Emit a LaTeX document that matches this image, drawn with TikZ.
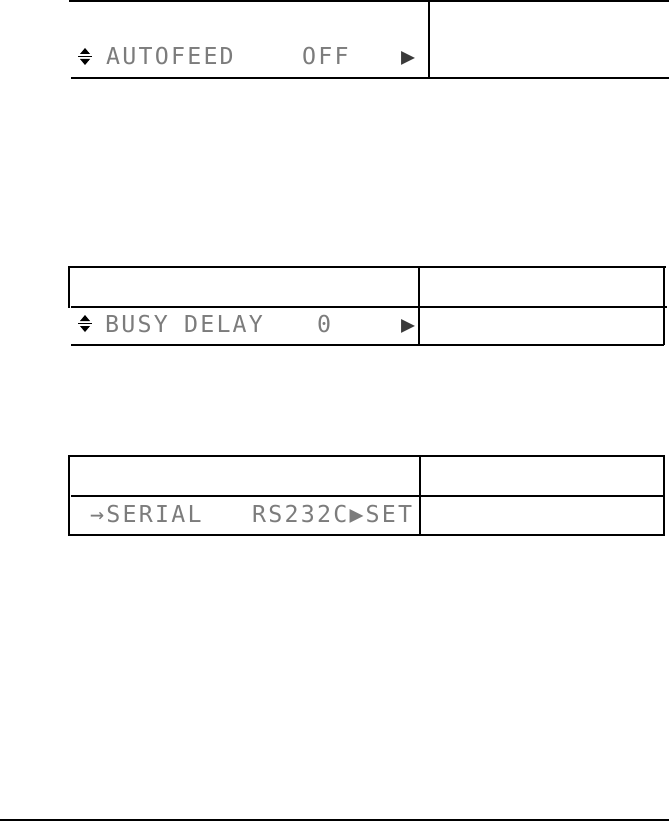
\documentclass[tikz,border=0pt]{standalone}
\usepackage{fontspec}
\newfontfamily\lcdfont[LetterSpace=9.4]{DejaVu Sans Mono}
\definecolor{lcdtext}{HTML}{7C7C7C}
\definecolor{lcddark}{HTML}{3A3A3A}

\begin{document}
\begin{tikzpicture}[x=1bp,y=-1bp,
  every node/.style={font=\lcdfont\fontsize{23.3bp}{24bp}\selectfont,text=lcdtext,inner sep=0pt,anchor=base west},
  lcdmark/.style={text=lcddark},
  thin rule/.style={line width=1.2bp},
  thick rule/.style={line width=2.2bp}]
\useasboundingbox (0,0) rectangle (669,821);
% panel: autofeed
\draw[thick rule] (69,1) -- (669,1);
\draw[thin rule] (71,78) -- (669,78);
\draw[thick rule] (429,0) -- (429,78);
\node (feed) at (106,65) {AUTOFEED};
\node (feedval) at (302,65) {OFF};
\node[lcdmark] (feednext) at (401,65) {▶};
% panel: busy delay
\draw[thin rule] (69,267) -- (666,267);
\draw[thick rule] (69,266) -- (69,308);
\draw[line width=1.7bp] (71,307) -- (419,307);
\draw[thin rule] (419,307) -- (667,307);
\draw[thin rule] (71,345) -- (664,345);
\draw[thick rule] (419,267) -- (419,345);
\draw[thin rule] (664,266) -- (664,345);
\node (busy) at (105,332) {BUSY DELAY};
\node (busyval) at (317,332) {0};
\node[lcdmark] (busynext) at (401,332) {▶};
% panel: serial
\draw[thin rule] (69,456) -- (665,456);
\draw[thin rule] (71,496) -- (665,496);
\draw[thick rule] (69,535) -- (665,535);
\draw[thick rule] (69,455) -- (69,536);
\draw[thick rule] (420,455) -- (420,535);
\draw[thin rule] (664,456) -- (664,535);
\node (serial) at (90,522) {→SERIAL};
\node (serialval) at (252,522) {RS232C▶SET};
% up/down marks
\foreach \y in {57,324} {
  \fill (85,\y-9) -- (80,\y-3) -- (90,\y-3) -- cycle;
  \draw[line width=1.5bp] (78,\y-0.5) -- (92,\y-0.5);
  \fill (85,\y+8) -- (80,\y+2) -- (90,\y+2) -- cycle;
}
% page foot
\draw[thick rule] (0,820) -- (669,820);
\end{tikzpicture}
\end{document}
